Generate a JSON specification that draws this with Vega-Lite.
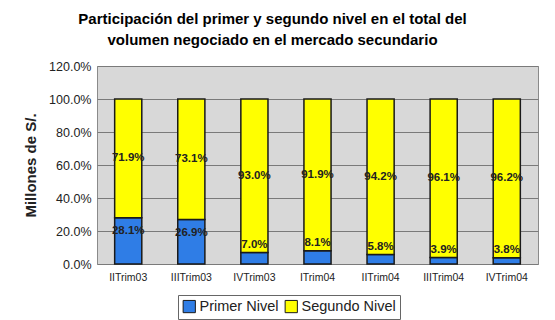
{
  "$schema": "https://vega.github.io/schema/vega-lite/v6.json",
  "width": 441,
  "height": 198,
  "autosize": {"type": "none"},
  "padding": {"left": 97, "top": 66, "right": 17, "bottom": 56},
  "background": "white",
  "title": {
    "text": ["Participación del primer y segundo nivel en el total del", "volumen negociado en el mercado secundario"],
    "font": "Liberation Sans",
    "fontSize": 15,
    "fontWeight": "bold",
    "color": "black",
    "anchor": "middle",
    "dx": -45,
    "offset": 12,
    "lineHeight": 21
  },
  "config": {
    "view": {"fill": "#d8d8d8", "stroke": "#8a8a8a", "strokeWidth": 1},
    "font": "Liberation Sans",
    "axisY": {
      "titleFontSize": 15,
      "titleFontWeight": "bold",
      "titleColor": "#222",
      "titlePadding": 10,
      "values": [0, 20, 40, 60, 80, 100, 120],
      "labelOverlap": false,
      "labelExpr": "format(datum.value, '.1f') + '%'",
      "labelFontSize": 12.5,
      "labelColor": "#222",
      "labelPadding": 6,
      "ticks": false,
      "domain": false,
      "gridColor": "#7a7a7a",
      "gridWidth": 1
    }
  },
  "data": {
    "values": [
      {"trim": "IITrim03", "nivel": "Primer Nivel", "valor": 28.1},
      {"trim": "IITrim03", "nivel": "Segundo Nivel", "valor": 71.9},
      {"trim": "IIITrim03", "nivel": "Primer Nivel", "valor": 26.9},
      {"trim": "IIITrim03", "nivel": "Segundo Nivel", "valor": 73.1},
      {"trim": "IVTrim03", "nivel": "Primer Nivel", "valor": 7.0},
      {"trim": "IVTrim03", "nivel": "Segundo Nivel", "valor": 93.0},
      {"trim": "ITrim04", "nivel": "Primer Nivel", "valor": 8.1},
      {"trim": "ITrim04", "nivel": "Segundo Nivel", "valor": 91.9},
      {"trim": "IITrim04", "nivel": "Primer Nivel", "valor": 5.8},
      {"trim": "IITrim04", "nivel": "Segundo Nivel", "valor": 94.2},
      {"trim": "IIITrim04", "nivel": "Primer Nivel", "valor": 3.9},
      {"trim": "IIITrim04", "nivel": "Segundo Nivel", "valor": 96.1},
      {"trim": "IVTrim04", "nivel": "Primer Nivel", "valor": 3.8},
      {"trim": "IVTrim04", "nivel": "Segundo Nivel", "valor": 96.2}
    ]
  },
  "encoding": {
    "x": {
      "field": "trim",
      "type": "nominal",
      "sort": null,
      "scale": {"paddingInner": 0.57, "paddingOuter": 0.28},
      "axis": {
        "title": null,
        "labelAngle": 0,
        "labelFontSize": 10.5,
        "labelColor": "#222",
        "labelPadding": 8,
        "ticks": false,
        "domain": false
      }
    }
  },
  "layer": [
    {
      "mark": {"type": "bar", "stroke": "#1a1a1a", "strokeWidth": 1.5},
      "encoding": {
        "y": {
          "field": "valor",
          "type": "quantitative",
          "stack": "zero",
          "scale": {"domain": [0, 120]},
          "title": "Millones de S/."
        },
        "color": {
          "field": "nivel",
          "type": "nominal",
          "scale": {"domain": ["Primer Nivel", "Segundo Nivel"], "range": ["#2f7de6", "#ffff00"]},
          "legend": {
            "title": null,
            "orient": "none",
            "direction": "horizontal",
            "legendX": 81,
            "legendY": 229,
            "symbolType": "square",
            "symbolSize": 150,
            "symbolStrokeColor": "#1a1a1a",
            "symbolStrokeWidth": 1,
            "labelFontSize": 14.5,
            "labelColor": "#222",
            "labelOffset": 3,
            "columnPadding": 4,
            "strokeColor": "#666",
            "fillColor": "white",
            "padding": 4
          }
        },
        "order": {"field": "nivel", "sort": "ascending"}
      }
    },
    {
      "transform": [
        {"filter": "datum.nivel === 'Segundo Nivel'"},
        {"calculate": "100 - datum.valor / 2", "as": "pos"},
        {"calculate": "format(datum.valor, '.1f') + '%'", "as": "lab"}
      ],
      "mark": {"type": "text", "fontSize": 11.5, "fontWeight": "bold", "color": "#222"},
      "encoding": {
        "y": {"field": "pos", "type": "quantitative", "title": "Millones de S/."},
        "text": {"field": "lab"}
      }
    },
    {
      "transform": [
        {"filter": "datum.nivel === 'Primer Nivel'"},
        {"calculate": "datum.valor > 15 ? datum.valor - 8 : datum.valor + 4.5", "as": "pos"},
        {"calculate": "format(datum.valor, '.1f') + '%'", "as": "lab"}
      ],
      "mark": {"type": "text", "fontSize": 11.5, "fontWeight": "bold", "color": "#222"},
      "encoding": {
        "y": {"field": "pos", "type": "quantitative", "title": "Millones de S/."},
        "text": {"field": "lab"}
      }
    }
  ]
}
